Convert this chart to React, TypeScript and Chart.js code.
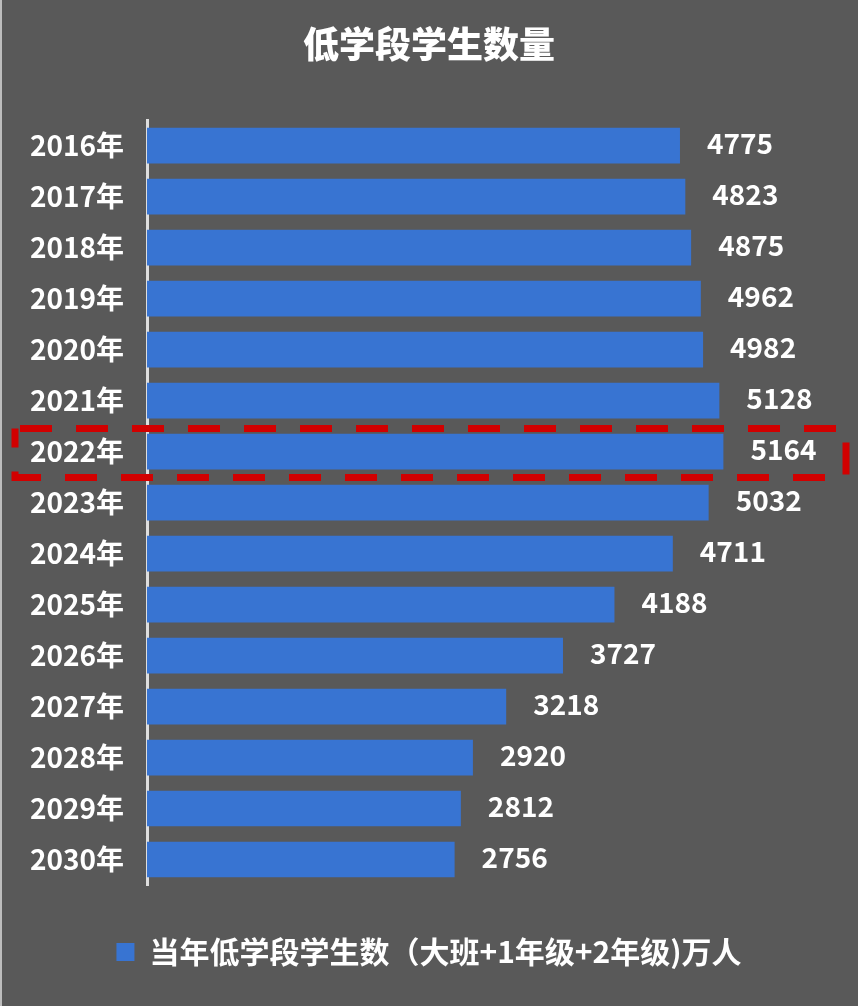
import React, { useEffect, useRef } from "react";
import { Chart, registerables } from "chart.js";

Chart.register(...registerables);

const categories = [
  "2016年", "2017年", "2018年", "2019年", "2020年", "2021年", "2022年", "2023年",
  "2024年", "2025年", "2026年", "2027年", "2028年", "2029年", "2030年",
];
const studentCounts = [
  4775, 4823, 4875, 4962, 4982, 5128, 5164, 5032, 4711, 4188, 3727, 3218, 2920, 2812, 2756,
];
const seriesLabel = "当年低学段学生数（大班+1年级+2年级)万人";
const chartTitle = "低学段学生数量";
const highlightedCategory = "2022年";

const FONT = '"Noto Sans CJK SC", "Noto Sans", sans-serif';
const BG = "#595959";
const BAR = "#3874d2";

const backgroundPlugin = {
  id: "bgPlugin",
  beforeDraw(chart: any) {
    const { ctx, width, height } = chart;
    ctx.save();
    ctx.fillStyle = BG;
    ctx.fillRect(0, 0, width, height);
    ctx.fillStyle = "#bdbdbd";
    ctx.fillRect(0, 0, 2, height);
    ctx.restore();
  },
};

const valueLabelPlugin = {
  id: "valueLabels",
  afterDatasetsDraw(chart: any) {
    const { ctx } = chart;
    const meta = chart.getDatasetMeta(0);
    ctx.save();
    ctx.font = `bold 28px ${FONT}`;
    ctx.fillStyle = "#ffffff";
    ctx.textAlign = "left";
    ctx.textBaseline = "middle";
    meta.data.forEach((bar: any, i: number) => {
      ctx.fillText(String(studentCounts[i]), bar.x + 27, bar.y - 2);
    });
    ctx.restore();
  },
};

const highlightPlugin = {
  id: "highlightBox",
  afterDraw(chart: any) {
    const { ctx } = chart;
    const yScale = chart.scales.y;
    const idx = categories.indexOf(highlightedCategory);
    if (idx < 0) return;
    const cy = yScale.getPixelForValue(idx);
    const left = 15;
    const right = 846;
    const top = cy - 23;
    const bottom = cy + 26;
    ctx.save();
    ctx.strokeStyle = "#d20000";
    ctx.lineWidth = 7;
    ctx.setLineDash([32, 24]);
    ctx.lineDashOffset = -5;
    ctx.strokeRect(left, top, right - left, bottom - top);
    ctx.restore();
  },
};

export default function App() {
  const canvasRef = useRef<HTMLCanvasElement | null>(null);

  useEffect(() => {
    if (!canvasRef.current) return;
    const chart = new Chart(canvasRef.current, {
      type: "bar",
      data: {
        labels: categories,
        datasets: [
          {
            label: seriesLabel,
            data: studentCounts,
            backgroundColor: BAR,
            borderWidth: 0,
            barPercentage: 0.7,
            categoryPercentage: 1,
          },
        ],
      },
      options: {
        indexAxis: "y",
        responsive: false,
        animation: false,
        devicePixelRatio: 1,
        layout: { padding: { left: 0, right: 0, top: 0, bottom: 29 } },
        scales: {
          x: {
            min: 0,
            max: 6370,
            display: true,
            grid: { display: false, drawTicks: false },
            border: { display: false },
            ticks: { display: false },
            afterFit: (scale: any) => {
              scale.height = 42;
            },
          },
          y: {
            grid: { display: false, drawTicks: false },
            border: { display: true, color: "#dedede", width: 3 },
            ticks: {
              color: "#ffffff",
              padding: 23,
              font: { family: FONT, size: 28, weight: "bold" },
            },
            afterFit: (scale: any) => {
              scale.width = 147;
            },
          },
        },
        plugins: {
          title: {
            display: true,
            text: chartTitle,
            color: "#ffffff",
            font: { family: FONT, size: 36, weight: 900 },
            padding: { top: 23, bottom: 54 },
          },
          legend: {
            display: true,
            position: "bottom",
            labels: {
              color: "#ffffff",
              boxWidth: 18,
              boxHeight: 18,
              padding: 10,
              font: { family: FONT, size: 30, weight: "bold" },
            },
          },
          tooltip: { enabled: false },
        },
      },
      plugins: [backgroundPlugin, valueLabelPlugin, highlightPlugin],
    } as any);
    return () => chart.destroy();
  }, []);

  return (
    <div style={{ position: "absolute", left: 0, top: 0, width: 858, height: 1006 }}>
      <canvas ref={canvasRef} width={858} height={1006} style={{ display: "block" }} />
    </div>
  );
}
